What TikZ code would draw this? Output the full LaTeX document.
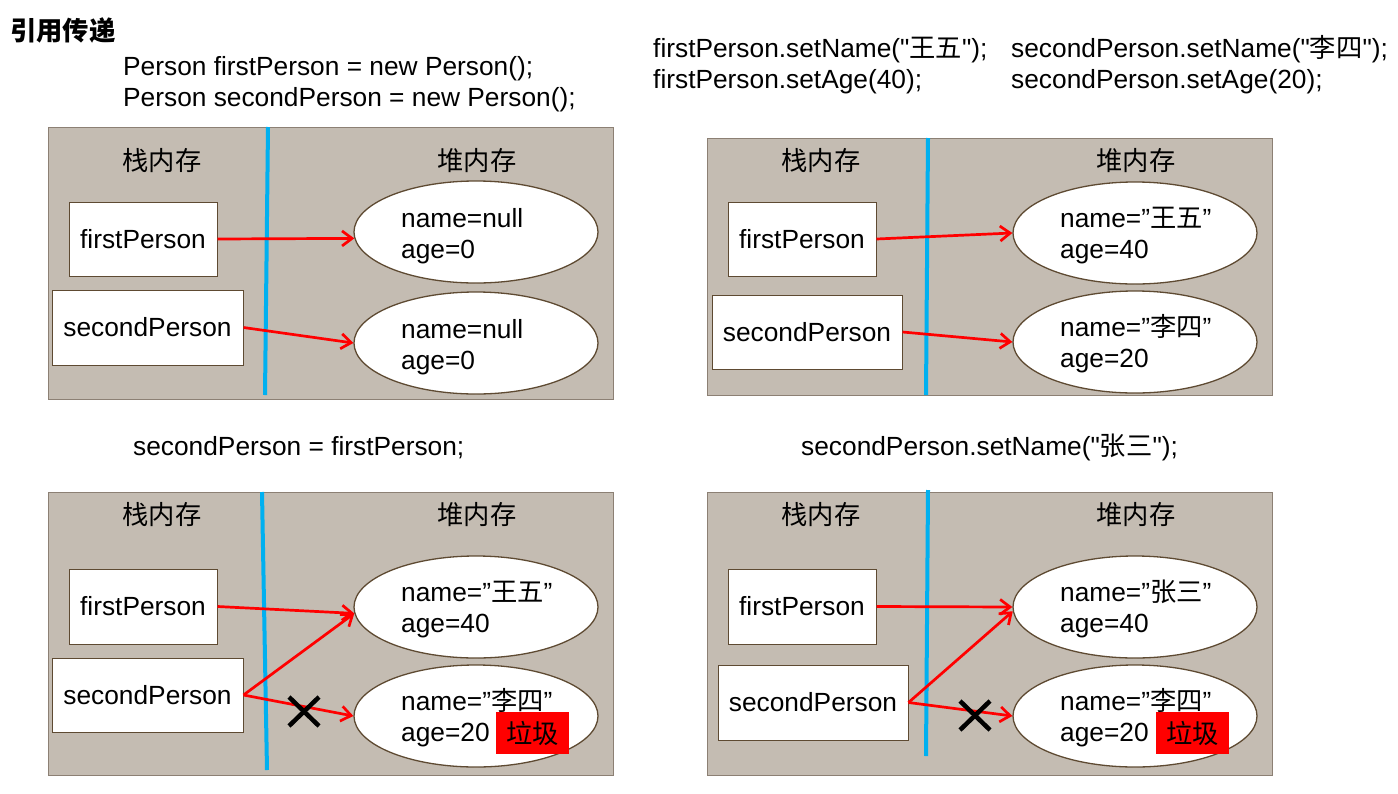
\documentclass[tikz,border=0pt]{standalone}
\usepackage{fontspec}
\setmainfont{Liberation Sans}[Ligatures=TeXOff]
\newfontfamily\cjk{Noto Sans CJK SC}
\newcommand{\zh}[1]{{\cjk #1}}
\newcommand{\sq}{{\char34}}
\usetikzlibrary{shapes.geometric,arrows.meta}
\definecolor{panelfill}{RGB}{196,188,178}
\definecolor{paneldraw}{RGB}{140,128,116}
\definecolor{boxdraw}{RGB}{94,74,50}
\definecolor{sepblue}{RGB}{0,176,240}
\definecolor{arrred}{RGB}{255,0,0}
\begin{document}
\begin{tikzpicture}[x=1pt,y=-1pt,
  every node/.style={font=\fontsize{26.3}{31}\selectfont, inner sep=0pt},
  panelrect/.style={fill=panelfill, draw=paneldraw, line width=1pt},
  divider/.style={draw=sepblue, line width=4pt},
  varbox/.style={draw=boxdraw, fill=white, line width=1pt, rectangle, minimum height=74pt},
  objell/.style={ellipse, draw=boxdraw, fill=white, line width=1.3pt, minimum width=244pt, minimum height=102pt},
  codetxt/.style={anchor=base west},
  refarrow/.style={draw=arrred, line width=2.7pt, -{Straight Barb[length=10pt,width=15pt]}},
  crossmark/.style={draw=black, line width=4.5pt},
  junkbox/.style={fill=red, minimum width=73pt, minimum height=42pt},
]
\useasboundingbox (0,0) rectangle (1398,793);
\fill[white] (0,0) rectangle (1398,793);

% headings and code
\node[codetxt] (title) at (10,40) {\cjk\bfseries 引用传递};
\node[codetxt] (c1) at (123,75) {Person firstPerson = new Person();};
\node[codetxt] (c2) at (123,106) {Person secondPerson = new Person();};
\node[codetxt] (c3) at (653,57) {firstPerson.setName(\sq\zh{王五}\sq);};
\node[codetxt] (c4) at (653,88) {firstPerson.setAge(40);};
\node[codetxt] (c5) at (1011,57) {secondPerson.setName(\sq\zh{李四}\sq);};
\node[codetxt] (c6) at (1011,88) {secondPerson.setAge(20);};
\node[codetxt] (c7) at (133,455) {secondPerson = firstPerson;};
\node[codetxt] (c8) at (801,455) {secondPerson.setName(\sq\zh{张三}\sq);};

% ---------- panel 1 ----------
\draw[panelrect] (48,127) rectangle (613,399);
\coordinate (d1a) at (268,127); \coordinate (d1b) at (265,395);
\draw[divider] (d1a) -- (d1b);
\node (st1) at (162,161) {\zh{栈内存}};
\node (hp1) at (477,161) {\zh{堆内存}};
\node[varbox, minimum width=148pt] (fp1) at (143,239) {firstPerson};
\node[varbox, minimum width=191pt, minimum height=75pt] (sp1) at (147.5,327.5) {secondPerson};
\node[objell] (e11) at (476,232) {};
\node[objell] (e12) at (476,343) {};
\node[codetxt] (t11a) at (401,227) {name=null};
\node[codetxt] (t11b) at (401,258) {age=0};
\node[codetxt] (t12a) at (401,338) {name=null};
\node[codetxt] (t12b) at (401,369) {age=0};
\draw[refarrow] (fp1.east) -- (e11.183.5);
\draw[refarrow] (sp1.east) -- (e12.west);

% ---------- panel 2 ----------
\draw[panelrect] (707,138) rectangle (1272,395);
\coordinate (d2a) at (928,138); \coordinate (d2b) at (926,395);
\draw[divider] (d2a) -- (d2b);
\node (st2) at (821,161) {\zh{栈内存}};
\node (hp2) at (1136,161) {\zh{堆内存}};
\node[varbox, minimum width=148pt] (fp2) at (802,239) {firstPerson};
\node[varbox, minimum width=190pt] (sp2) at (807,332) {secondPerson};
\node[objell] (e21) at (1135,233) {};
\node[objell] (e22) at (1135,342) {};
\node[codetxt] (t21a) at (1060,227) {name=”\zh{王五}”};
\node[codetxt] (t21b) at (1060,258) {age=40};
\node[codetxt] (t22a) at (1060,336) {name=”\zh{李四}”};
\node[codetxt] (t22b) at (1060,367) {age=20};
\draw[refarrow] (fp2.east) -- (e21.west);
\draw[refarrow] (sp2.east) -- (e22.west);

% ---------- panel 3 ----------
\draw[panelrect] (48,492) rectangle (613,775);
\coordinate (d3a) at (262,492); \coordinate (d3b) at (267,770);
\draw[divider] (d3a) -- (d3b);
\node (st3) at (162,515) {\zh{栈内存}};
\node (hp3) at (477,515) {\zh{堆内存}};
\node[varbox, minimum width=148pt, minimum height=75pt] (fp3) at (143,606.5) {firstPerson};
\node[varbox, minimum width=191pt] (sp3) at (147.5,695) {secondPerson};
\node[objell] (e31) at (476,607) {};
\node[objell] (e32) at (476,716) {};
\node[codetxt] (t31a) at (401,601) {name=”\zh{王五}”};
\node[codetxt] (t31b) at (401,632) {age=40};
\node[codetxt] (t32a) at (401,710) {name=”\zh{李四}”};
\node[codetxt] (t32b) at (401,741) {age=20};
\node[junkbox] (g3) at (532.5,733) {\zh{垃圾}};
\draw[refarrow] (fp3.east) -- (e31.183);
\draw[refarrow] (sp3.east) -- (e31.183);
\draw[refarrow] (sp3.east) -- (e32.west);
\draw[crossmark] (289,697) -- (319,726);
\draw[crossmark] (319,697) -- (289,726);

% ---------- panel 4 ----------
\draw[panelrect] (707,492) rectangle (1272,775);
\coordinate (d4a) at (928,490); \coordinate (d4b) at (926,756);
\draw[divider] (d4a) -- (d4b);
\node (st4) at (821,515) {\zh{栈内存}};
\node (hp4) at (1136,515) {\zh{堆内存}};
\node[varbox, minimum width=148pt, minimum height=75pt] (fp4) at (802,606.5) {firstPerson};
\node[varbox, minimum width=190pt, minimum height=75pt] (sp4) at (813,702.5) {secondPerson};
\node[objell] (e41) at (1135,607) {};
\node[objell] (e42) at (1135,716) {};
\node[codetxt] (t41a) at (1060,601) {name=”\zh{张三}”};
\node[codetxt] (t41b) at (1060,632) {age=40};
\node[codetxt] (t42a) at (1060,710) {name=”\zh{李四}”};
\node[codetxt] (t42b) at (1060,741) {age=20};
\node[junkbox] (g4) at (1192.5,733) {\zh{垃圾}};
\draw[refarrow] (fp4.east) -- (e41.west);
\draw[refarrow] (sp4.east) -- (e41.182);
\draw[refarrow] (sp4.east) -- (e42.west);
\draw[crossmark] (960,701) -- (990,730);
\draw[crossmark] (990,701) -- (960,730);
\end{tikzpicture}
\end{document}
